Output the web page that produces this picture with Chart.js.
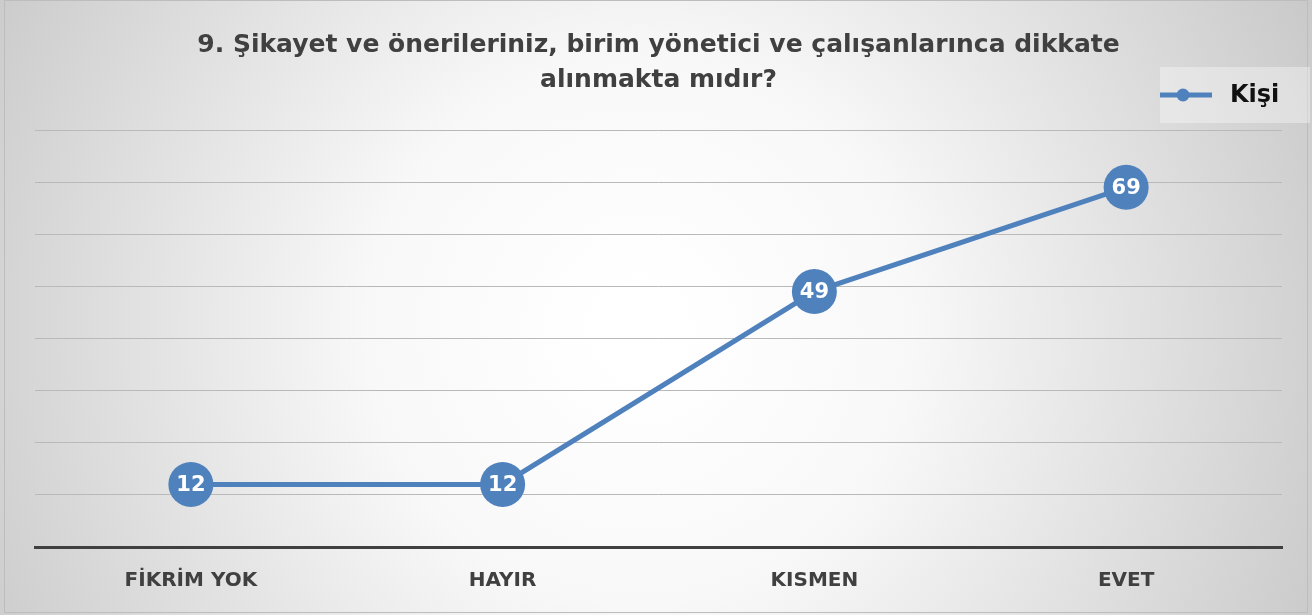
<!DOCTYPE html>
<html>
<head>
<meta charset="utf-8">
<script src="https://cdn.jsdelivr.net/npm/chart.js@4"></script>
<style>
    html, body { margin: 0; padding: 0; background: #ffffff; }
    #wrap { width: 1312px; height: 615px; position: relative; }
</style>
</head>
<body>
<div id="wrap"><canvas id="chart"></canvas></div>
<script>
// data
const categories = ['FİKRİM YOK', 'HAYIR', 'KISMEN', 'EVET'];
const kisiValues = [12, 12, 49, 69];
const seriesName = 'Kişi';
const titleLines = ['9. Şikayet ve önerileriniz, birim yönetici ve çalışanlarınca dikkate', 'alınmakta mıdır?'];

const blue = '#4f81bd';
const dark = '#404040';
const fontFamily = '"DejaVu Sans", sans-serif';

// gradient background + frame
const backgroundPlugin = {
    id: 'background',
    beforeDraw(chart) {
        const ctx = chart.ctx;
        const w = chart.width, h = chart.height;
        ctx.save();
        const g = ctx.createRadialGradient(640, 330, 40, 640, 330, 820);
        g.addColorStop(0, '#ffffff');
        g.addColorStop(0.3, '#f8f8f8');
        g.addColorStop(1, '#c2c2c2');
        ctx.fillStyle = g;
        ctx.fillRect(0, 0, w, h);
        ctx.strokeStyle = '#bdbdbd';
        ctx.lineWidth = 1;
        ctx.strokeRect(4.5, 0.5, w - 9, h - 3);
        ctx.restore();
    }
};

// value labels inside the points
const valueLabels = {
    id: 'valueLabels',
    afterDatasetsDraw(chart) {
        const ctx = chart.ctx;
        const meta = chart.getDatasetMeta(0);
        ctx.save();
        ctx.fillStyle = '#ffffff';
        ctx.font = 'bold 21px ' + fontFamily;
        ctx.textAlign = 'center';
        ctx.textBaseline = 'middle';
        meta.data.forEach(function(pt, i) {
            ctx.fillText(String(kisiValues[i]), pt.x, pt.y + 1);
        });
        ctx.restore();
    }
};

// legend box on the right
const legendBox = {
    id: 'legendBox',
    afterDraw(chart) {
        const ctx = chart.ctx;
        ctx.save();
        ctx.fillStyle = 'rgba(255,255,255,0.35)';
        ctx.fillRect(1160, 67, 150, 56);
        ctx.strokeStyle = blue;
        ctx.lineWidth = 5;
        ctx.beginPath();
        ctx.moveTo(1160, 95);
        ctx.lineTo(1212, 95);
        ctx.stroke();
        ctx.fillStyle = blue;
        ctx.beginPath();
        ctx.arc(1183, 95, 6.5, 0, Math.PI * 2);
        ctx.fill();
        ctx.fillStyle = '#111111';
        ctx.font = 'bold 24px ' + fontFamily;
        ctx.textBaseline = 'middle';
        ctx.textAlign = 'left';
        ctx.fillText(seriesName, 1230, 96);
        ctx.restore();
    }
};

function createChart() {
    const ctx = document.getElementById('chart').getContext('2d');
    new Chart(ctx, {
        type: 'line',
        data: {
            labels: categories,
            datasets: [{
                label: seriesName,
                data: kisiValues,
                borderColor: blue,
                backgroundColor: blue,
                borderWidth: 5,
                pointRadius: 22.5,
                pointHoverRadius: 22.5,
                pointBackgroundColor: blue,
                pointBorderWidth: 0,
                tension: 0,
                clip: false
            }]
        },
        options: {
            responsive: true,
            maintainAspectRatio: false,
            animation: false,
            layout: { padding: { left: 35, right: 30, bottom: 0, top: 0 } },
            plugins: {
                legend: { display: false },
                tooltip: { enabled: false },
                title: {
                    display: true,
                    text: titleLines,
                    color: dark,
                    font: { family: fontFamily, size: 25, weight: 'bold', lineHeight: 1.4 },
                    padding: { top: 27.5, bottom: 32.5 }
                }
            },
            scales: {
                x: {
                    offset: true,
                    grid: { display: false, drawTicks: false },
                    border: { color: dark, width: 3 },
                    ticks: {
                        color: dark,
                        padding: 24,
                        font: { family: fontFamily, size: 20, weight: 'bold', lineHeight: 1 }
                    }
                },
                y: {
                    min: 0,
                    max: 80,
                    ticks: { stepSize: 10, display: false },
                    grid: { color: '#b9b9b9', lineWidth: 1, drawTicks: false },
                    border: { display: false }
                }
            }
        },
        plugins: [backgroundPlugin, valueLabels, legendBox]
    });
}

createChart();
</script>
</body>
</html>
